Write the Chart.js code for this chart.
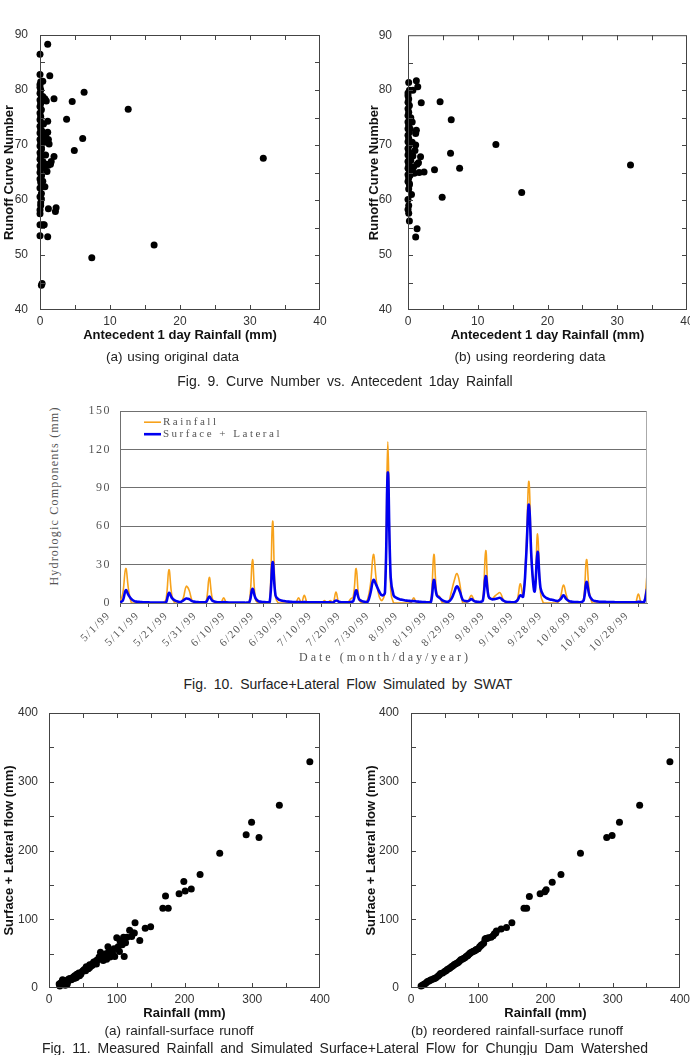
<!DOCTYPE html>
<html>
<head>
<meta charset="utf-8">
<script src="https://cdn.jsdelivr.net/npm/chart.js@4.4.0/dist/chart.umd.min.js"></script>
<style>
  body { margin: 0; background: #fff; }
  #page { position: relative; width: 690px; height: 1055px; overflow: hidden; background: #fff; }
  canvas { position: absolute; }
  .cap { position: absolute; text-align: center; line-height: 18px; color: #222;
         font-family: "Liberation Sans", Arial, sans-serif; white-space: nowrap; }
  .sub { font-size: 13.5px; word-spacing: 1px; }
  .fig { font-size: 14px; word-spacing: 3px; }
  .serif { position: absolute; white-space: nowrap; color: #555; font-family: "Liberation Serif", serif; }
</style>
</head>
<body>
<div id="page">
  <canvas id="cn-original" width="345" height="330" style="left:0;top:20px"></canvas>
  <canvas id="cn-reordered" width="350" height="330" style="left:360px;top:20px"></canvas>
  <div class="cap sub" style="left:0;width:345px;top:348px">(a) using original data</div>
  <div class="cap sub" style="left:360px;width:340px;top:348px">(b) using reordering data</div>
  <div class="cap fig" style="left:0;width:690px;top:372px">Fig. 9. Curve Number vs. Antecedent 1day Rainfall</div>

  <canvas id="swat-flow" width="620" height="280" style="left:70px;top:395px"></canvas>
  <div class="serif" style="left:54px;top:496px;font-size:12px;letter-spacing:1.2px;transform:translate(-50%,-50%) rotate(-90deg)">Hydrologic Components (mm)</div>
  <div class="serif" style="left:185px;width:400px;top:650px;text-align:center;font-size:12px;letter-spacing:3px">Date (month/day/year)</div>
  <div class="cap fig" style="left:0;width:696px;top:675px">Fig. 10. Surface+Lateral Flow Simulated by SWAT</div>

  <canvas id="flow-original" width="345" height="330" style="left:0;top:700px"></canvas>
  <canvas id="flow-reordered" width="345" height="330" style="left:345px;top:700px"></canvas>
  <div class="cap sub" style="left:0;width:358px;top:1022px">(a) rainfall-surface runoff</div>
  <div class="cap sub" style="left:345px;width:344px;top:1022px">(b) reordered rainfall-surface runoff</div>
  <div class="cap fig" style="left:0;width:690px;top:1039px">Fig. 11. Measured Rainfall and Simulated Surface+Lateral Flow for Chungju Dam Watershed</div>
</div>

<script>
// Fig. 9 (a) - antecedent 1 day rainfall vs curve number, original data
var cnOrigRain = [1.1, 0, 0, 1.4, 0.1, 0.4, 0, 2.0, 4.6, 6.3, 12.6, 3.8, 1.1, 6.1, 4.9, 31.9, 1.1, 1.2, 1.3, 2.0,
  1.6, 1.2, 1.5, 0.8, 0.6, 0.4, 0.7, 2.3, 2.2, 1.2, 0.4, 0.6, 0, 1.1, 0, 7.4, 16.3, 0.2, 0.3, 0,
  0.1, 0.2, 0.4, 0.7, 0.9, 0.5, 0.3, 0.5, 0.6, 0.2, 0.4, 0.9, 0.2, 0.3, 0.8, 0.5, 1.0,
  0, 0.1, 0, 0.2, 0, 0.1, 0, 0.2, 0, 0.1, 0, 0.2, 0, 0.1, 0, 0.2, 0, 0.1, 0, 0.2,
  0, 0.1, 0, 0.2, 0, 0.1, 0, 0.2, 0, 0.1, 0, 0.2, 0, 0.1, 0];
var cnOrigCN = [88.3, 86.5, 82.8, 82.6, 81.5, 81.6, 81.0, 78.4, 77.9, 79.6, 76.5, 74.7, 74.3, 71.2, 69.0, 67.6, 72.3, 71.0, 70.2, 67.9,
  67.0, 66.3, 66.5, 68.2, 65.8, 63.4, 62.4, 58.6, 57.9, 58.4, 55.5, 55.5, 55.5, 53.3, 53.5, 49.5, 51.8, 44.5, 44.8, 57.5,
  59.5, 60.2, 78.8, 78.4, 78.0, 78.2, 72.5, 71.5, 70.5, 69.5, 67.0, 66.5, 64.5, 66.0, 71.8, 73.8, 65.2,
  80.5, 80.0, 79.4, 78.8, 78.2, 77.6, 77.0, 76.4, 75.8, 75.2, 74.6, 74.0, 73.4, 72.8, 72.2, 71.6, 71.0, 70.4, 69.8, 69.2,
  68.6, 68.0, 67.4, 66.8, 66.2, 65.6, 65.0, 64.4, 63.8, 63.2, 62.2, 61.2, 60.6, 59.0, 58.2];

// Fig. 9 (b) - reordered data
var cnReRain = [0.1, 1.2, 1.4, 0.7, 0.2, 0, 1.9, 4.6, 6.2, 12.6, 6.1, 7.4, 3.8, 2.3, 31.9, 16.3, 4.9, 0.5, 1.3, 1.1,
  0.2, 0.1, 0, 0.1, 0, 0.1, 1.2, 1.1, 1.1, 1.0, 1.8, 1.5, 1.3, 1.6, 0.9, 0.5, 0.6, 0.4, 0.7, 0.4,
  0.6, 0.3, 0.8, 0.2, 0.3,
  0, 0.1, 0, 0.2, 0, 0.1, 0, 0.2, 0, 0.1, 0, 0.2, 0, 0.1, 0, 0.2, 0, 0.1, 0, 0.2,
  0, 0.1, 0, 0.2, 0, 0.1, 0, 0.2];
var cnReCN = [81.4, 81.7, 80.6, 80.0, 80.0, 79.5, 77.7, 77.9, 74.6, 70.1, 68.5, 65.8, 65.5, 65.1, 66.4, 61.4, 60.5, 61.0, 54.8, 53.3,
  56.2, 57.6, 58.3, 59.0, 60.1, 62.0, 72.7, 72.1, 70.0, 69.0, 67.9, 66.8, 66.5, 65.0, 64.9, 65.0, 74.2, 75.0, 68.0, 67.2,
  70.5, 73.0, 66.0, 63.0, 64.5,
  79.0, 78.4, 77.8, 77.2, 76.6, 76.0, 75.4, 74.8, 74.2, 73.6, 73.0, 72.4, 71.8, 71.2, 70.6, 70.0, 69.4, 68.8, 68.2, 67.6,
  67.0, 66.4, 65.8, 65.2, 64.6, 64.0, 63.4, 62.8];

// Fig. 10 - daily values from 5/1/99 to 10/31/99
var dateTicks = ['5/1/99', '5/11/99', '5/21/99', '5/31/99', '6/10/99', '6/20/99', '6/30/99', '7/10/99', '7/20/99', '7/30/99',
  '8/9/99', '8/19/99', '8/29/99', '9/8/99', '9/18/99', '9/28/99', '10/8/99', '10/18/99', '10/28/99'];
var dailyRainfall = [
  0, 8, 27, 10, 0, 0, 0, 0, 0, 0,
  0, 0, 0, 0, 0, 0, 3, 26, 6, 0,
  0, 0, 4, 13, 10, 2, 0, 0, 0, 0,
  2, 20, 4, 0, 0, 0, 4, 0, 0, 0,
  0, 0, 0, 0, 0, 2, 34, 3, 0, 0,
  0, 0, 2, 64, 5, 0, 0, 0, 0, 0,
  0, 0, 4, 0, 6, 0, 0, 0, 0, 0,
  0, 2, 0, 2, 0, 8.5, 0, 0, 0, 0,
  3, 5, 27, 3, 0, 0, 3, 15, 38, 18,
  5, 2, 10, 126, 10, 0, 0, 0, 0, 0,
  0, 0, 4, 0, 0, 0, 0, 0, 3, 38,
  7, 5, 0, 0, 0, 8, 17, 23, 15, 0,
  0, 2, 6, 2, 0, 0, 3, 41, 5, 3,
  5, 7, 8, 3, 0, 0, 0, 0, 3, 15,
  5, 40, 95, 30, 10, 54, 8, 0, 0, 0,
  0, 0, 0, 5, 14, 6, 0, 0, 0, 0,
  0, 3, 34, 8, 0, 0, 0, 0, 0, 0,
  0, 0, 0, 0, 0, 0, 0, 0, 0, 0,
  7, 0, 0, 22];
var dailySurfaceLateral = [
  0.5, 2, 10, 6, 3, 1.5, 1, 0.8, 0.6, 0.5,
  0.5, 0.4, 0.4, 0.3, 0.3, 0.3, 0.6, 8, 4, 2,
  1.2, 0.8, 2, 3.5, 3, 1.5, 1, 0.7, 0.6, 0.5,
  1, 5, 2, 1, 0.6, 0.5, 0.8, 0.5, 0.4, 0.4,
  0.3, 0.3, 0.3, 0.3, 0.3, 1, 11, 4, 1.5, 1,
  0.7, 0.6, 1, 32, 6, 3, 2, 1.5, 1.2, 1,
  0.8, 0.7, 0.8, 0.6, 0.8, 0.6, 0.5, 0.5, 0.5, 0.5,
  0.5, 0.5, 0.5, 0.5, 0.5, 2, 1, 0.6, 0.5, 0.5,
  0.8, 1.5, 10, 3, 1.5, 1, 1, 8, 18, 14,
  9, 6, 8, 102, 20, 6, 4, 3, 2.5, 2,
  1.8, 1.5, 1.5, 1.2, 1, 0.8, 0.7, 0.6, 1, 18,
  6, 4, 2, 1.2, 1, 3, 8, 13, 9, 2.5,
  1.5, 1.5, 3, 1.5, 1, 0.8, 2, 21, 5, 3,
  3, 3.5, 4, 2, 1, 0.8, 0.6, 0.6, 2, 6,
  5, 35, 77, 30, 9, 40, 12, 6, 4, 3,
  2.5, 2, 1.5, 3, 6, 3, 1.5, 1, 0.8, 0.7,
  0.6, 2, 16.5, 6, 2.5, 1.5, 1.2, 1, 0.9, 0.8,
  0.7, 0.7, 0.6, 0.6, 0.6, 0.5, 0.5, 0.5, 0.5, 0.5,
  1, 0.8, 0.7, 11];

// Fig. 11 (a) - measured rainfall vs simulated flow
var flowRainA = [385, 340, 291, 299, 310, 252, 223, 199, 201, 210, 192, 172, 168, 176, 127, 150, 142, 134, 119, 124,
  122, 126, 115, 110, 100, 108, 111, 96, 104, 87, 94, 90, 76, 97, 85, 80, 72, 68, 64, 60,
  56, 54, 50, 47, 45, 42, 40, 37, 33, 30, 28, 25, 22, 20, 18, 16, 15, 24, 27, 64,
  66, 70, 74, 82, 78, 58, 62, 52, 44, 38, 35, 31, 26, 19, 17, 105, 113, 102, 92, 88,
  84, 80, 70, 60, 55, 48, 41, 36, 29, 23];
var flowA = [329, 266, 223, 241, 219, 196, 165, 155, 141, 144, 137, 134, 116, 116, 95, 89, 87, 69, 84, 80,
  75, 80, 74, 74, 73, 63, 46, 57, 53, 60, 50, 45, 52, 46, 42, 40, 41, 37, 33, 30,
  30, 25, 25, 20, 18, 17, 15, 14, 12, 12, 10, 8, 10, 12, 5, 3, 6, 4, 6, 35,
  38, 40, 45, 48, 43, 28, 32, 27, 22, 18, 15, 14, 10, 9, 7, 68, 66, 60, 55, 52,
  50, 47, 35, 34, 31, 23, 20, 16, 13, 11];

// Fig. 11 (b) - reordered
var flowRainB = [15, 17, 19, 20, 22, 24, 26, 28, 30, 33, 35, 37, 40, 42, 44, 47, 50, 52, 54, 56,
  58, 60, 62, 64, 66, 68, 70, 72, 74, 76, 78, 80, 82, 84, 85, 87, 88, 90, 92, 94,
  96, 97, 100, 102, 104, 105, 108, 110, 111, 113, 115, 119, 122, 124, 126, 127, 134, 142, 150, 168,
  172, 176, 192, 199, 201, 210, 223, 252, 291, 299, 310, 340, 385];
var flowB = [3, 4, 5, 6, 7, 9, 10, 11, 12, 13, 14, 15, 17, 19, 21, 22, 24, 25, 27, 28,
  29, 31, 32, 34, 35, 36, 37, 39, 41, 42, 43, 44, 46, 47, 48, 50, 51, 52, 53, 54,
  55, 56, 57, 60, 62, 63, 65, 71, 72, 72, 73, 74, 76, 79, 80, 83, 86, 88, 95, 116,
  116, 133, 137, 140, 143, 154, 165, 196, 219, 222, 241, 266, 329];

Chart.defaults.font.family = '"Liberation Sans", Arial, sans-serif';
Chart.defaults.color = '#333';

// frame + inward tick marks on all four sides
var boxTicks = {
  id: 'boxTicks',
  afterDraw: function(chart, args, opts) {
    var ctx = chart.ctx, a = chart.chartArea, x = chart.scales.x, y = chart.scales.y;
    var len = 5, v, p;
    ctx.save();
    ctx.strokeStyle = '#444';
    ctx.lineWidth = 1;
    ctx.strokeRect(a.left + 0.5, a.top + 0.5, a.right - a.left - 1, a.bottom - a.top - 1);
    ctx.beginPath();
    for (v = x.min + opts.xStep; v < x.max; v += opts.xStep) {
      p = Math.round(x.getPixelForValue(v)) + 0.5;
      ctx.moveTo(p, a.bottom); ctx.lineTo(p, a.bottom - len);
      ctx.moveTo(p, a.top); ctx.lineTo(p, a.top + len);
    }
    for (v = y.min + opts.yStep; v < y.max; v += opts.yStep) {
      p = Math.round(y.getPixelForValue(v)) + 0.5;
      ctx.moveTo(a.left, p); ctx.lineTo(a.left + len, p);
      ctx.moveTo(a.right, p); ctx.lineTo(a.right - len, p);
    }
    ctx.stroke();
    ctx.restore();
  }
};

function printScatter(id, xs, ys, cfg) {
  var points = [];
  for (var i = 0; i < xs.length; i++) {
    points.push({x: xs[i], y: ys[i]});
  }
  new Chart(document.getElementById(id), {
    type: 'scatter',
    data: {
      datasets: [{
        data: points,
        backgroundColor: '#000',
        borderColor: '#000',
        borderWidth: 0,
        pointRadius: 3.5,
        clip: false
      }]
    },
    options: {
      responsive: false,
      animation: false,
      layout: { padding: cfg.padding },
      plugins: {
        legend: { display: false },
        tooltip: { enabled: false },
        boxTicks: { xStep: cfg.xMinor, yStep: cfg.yMinor }
      },
      scales: {
        x: {
          type: 'linear', min: cfg.xMin, max: cfg.xMax,
          ticks: { stepSize: cfg.xStep, padding: -4, color: '#333', font: { size: 12 } },
          grid: { display: false }, border: { display: false },
          title: { display: true, text: cfg.xTitle, color: '#111', font: { size: 13, weight: 'bold' }, padding: { top: 0, bottom: cfg.xTitlePad } },
          afterFit: function(s) { s.height = cfg.xAxisHeight; }
        },
        y: {
          min: cfg.yMin, max: cfg.yMax,
          ticks: { stepSize: cfg.yStep, padding: cfg.yTickPad, color: '#333', font: { size: 12 } },
          grid: { display: false }, border: { display: false },
          title: { display: true, text: cfg.yTitle, color: '#111', font: { size: 13, weight: 'bold' }, padding: { top: cfg.yTitlePad, bottom: 0 } },
          afterFit: function(s) { s.width = cfg.yAxisWidth; }
        }
      }
    },
    plugins: [boxTicks]
  });
}

// legend inside the plot, right border, spaced serif text
var flowDecor = {
  id: 'flowDecor',
  beforeDraw: function(chart) {
    chart.ctx.letterSpacing = '1.5px';
  },
  afterDraw: function(chart) {
    var ctx = chart.ctx, a = chart.chartArea;
    ctx.save();
    ctx.strokeStyle = '#aaa';
    ctx.lineWidth = 1;
    ctx.beginPath();
    ctx.moveTo(a.right - 0.5, a.top); ctx.lineTo(a.right - 0.5, a.bottom);
    ctx.stroke();
    ctx.font = '11px "Liberation Serif", serif';
    ctx.letterSpacing = '2.5px';
    ctx.textBaseline = 'middle';
    chart.data.datasets.forEach(function(ds, i) {
      var y = a.top + 11 + i * 12;
      ctx.strokeStyle = ds.borderColor;
      ctx.lineWidth = ds.borderWidth;
      ctx.beginPath();
      ctx.moveTo(a.left + 24, y); ctx.lineTo(a.left + 41, y);
      ctx.stroke();
      ctx.fillStyle = '#555';
      ctx.fillText(ds.label, a.left + 43, y);
    });
    ctx.restore();
  }
};

function printFlowChart() {
  var rainPoints = [], flowPoints = [];
  for (var i = 0; i < dailyRainfall.length; i++) {
    rainPoints.push({x: i, y: dailyRainfall[i]});
    flowPoints.push({x: i, y: dailySurfaceLateral[i]});
  }
  var serif = { family: '"Liberation Serif", serif', size: 11 };
  new Chart(document.getElementById('swat-flow'), {
    type: 'line',
    data: {
      datasets: [
        { label: 'Rainfall', data: rainPoints, borderColor: '#F7A21B', borderWidth: 1.6, pointRadius: 0, tension: 0.4, fill: false, order: 1 },
        { label: 'Surface + Lateral', data: flowPoints, borderColor: '#0000F0', borderWidth: 2.6, pointRadius: 0, tension: 0.4, fill: false, order: 0 }
      ]
    },
    options: {
      responsive: false,
      animation: false,
      layout: { padding: { top: 11, right: 43, left: 0, bottom: 0 } },
      plugins: { legend: { display: false }, tooltip: { enabled: false } },
      scales: {
        x: {
          type: 'linear', min: 0, max: 183,
          ticks: {
            stepSize: 10, autoSkip: false, includeBounds: false, maxRotation: 45, minRotation: 45,
            padding: 2, labelOffset: -11, color: '#555', font: serif,
            callback: function(v) { return dateTicks[Math.round(v / 10)]; }
          },
          grid: { drawOnChartArea: false, tickLength: 4, color: '#555' },
          border: { color: '#707070' },
          afterFit: function(s) { s.height = 72; }
        },
        y: {
          min: 0, max: 150,
          ticks: { stepSize: 30, padding: 9, color: '#555', font: { family: '"Liberation Serif", serif', size: 12 } },
          grid: { color: '#707070', drawTicks: false },
          border: { color: '#707070' },
          afterFit: function(s) { s.width = 50; }
        }
      }
    },
    plugins: [flowDecor]
  });
}

printScatter('cn-original', cnOrigRain, cnOrigCN, {
  xMin: 0, xMax: 40, xStep: 10, xMinor: 5, yMin: 40, yMax: 90, yStep: 10, yMinor: 5,
  xTitle: 'Antecedent 1 day Rainfall (mm)', yTitle: 'Runoff Curve Number',
  padding: { top: 15, right: 25, left: 0, bottom: 0 }, xAxisHeight: 40, yAxisWidth: 40,
  xTitlePad: 7, yTitlePad: 2, yTickPad: 4
});
printScatter('cn-reordered', cnReRain, cnReCN, {
  xMin: 0, xMax: 40, xStep: 10, xMinor: 5, yMin: 40, yMax: 90, yStep: 10, yMinor: 5,
  xTitle: 'Antecedent 1 day Rainfall (mm)', yTitle: 'Runoff Curve Number',
  padding: { top: 15, right: 23, left: 0, bottom: 0 }, xAxisHeight: 40, yAxisWidth: 48,
  xTitlePad: 7, yTitlePad: 7, yTickPad: 8
});
printFlowChart();
printScatter('flow-original', flowRainA, flowA, {
  xMin: 0, xMax: 400, xStep: 100, xMinor: 50, yMin: 0, yMax: 400, yStep: 100, yMinor: 50,
  xTitle: 'Rainfall (mm)', yTitle: 'Surface + Lateral flow (mm)',
  padding: { top: 13, right: 25, left: 0, bottom: 0 }, xAxisHeight: 42, yAxisWidth: 49,
  xTitlePad: 9, yTitlePad: 2, yTickPad: 3
});
printScatter('flow-reordered', flowRainB, flowB, {
  xMin: 0, xMax: 400, xStep: 100, xMinor: 50, yMin: 0, yMax: 400, yStep: 100, yMinor: 50,
  xTitle: 'Rainfall (mm)', yTitle: 'Surface + Lateral flow (mm)',
  padding: { top: 13, right: 10, left: 0, bottom: 0 }, xAxisHeight: 42, yAxisWidth: 66,
  xTitlePad: 9, yTitlePad: 19, yTickPad: 4
});
</script>
</body>
</html>
